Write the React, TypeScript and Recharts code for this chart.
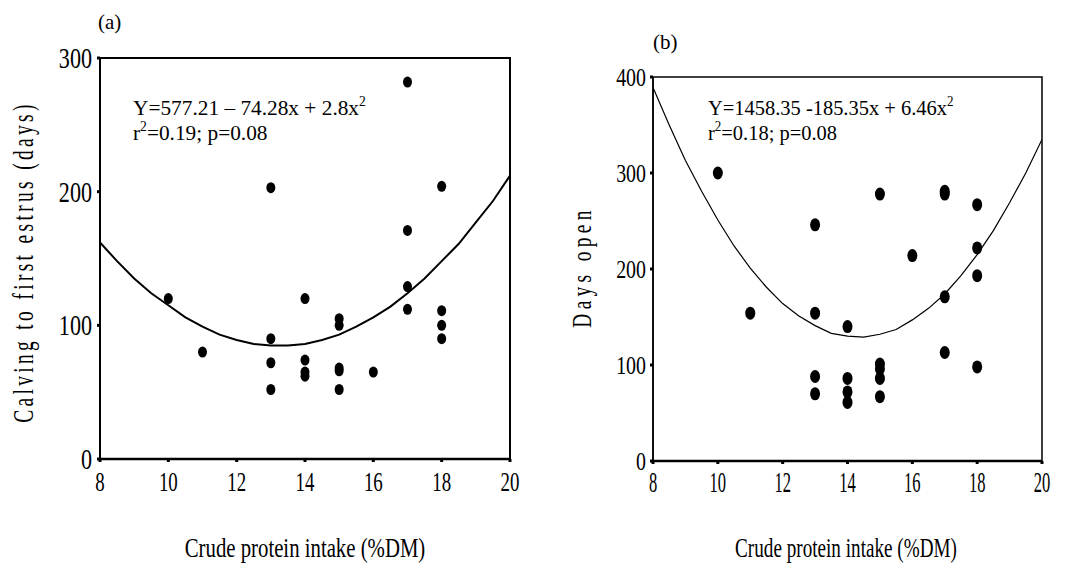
import React from "react";
import {
  ComposedChart, Scatter, Line, XAxis, YAxis, ReferenceArea,
} from "recharts";

// (a) calving to first estrus vs crude protein intake
const cpA = [10, 11, 13, 13, 13, 13, 14, 14, 14, 14, 15, 15, 15, 15, 15, 16, 17, 17, 17, 17, 18, 18, 18, 18];
const calvingDays = [120, 80, 203, 90, 72, 52, 120, 74, 65, 62, 105, 100, 68, 66, 52, 65, 282, 171, 129, 112, 204, 111, 100, 90];

// (b) days open vs crude protein intake
const cpB = [10, 11, 13, 13, 13, 13, 14, 14, 14, 14, 15, 15, 15, 15, 15, 16, 17, 17, 17, 17, 18, 18, 18, 18];
const daysOpen = [300, 154, 246, 154, 88, 70, 140, 86, 72, 61, 278, 101, 96, 86, 67, 214, 281, 278, 171, 113, 267, 222, 193, 98];

// fitted curves
const fitX = [8, 8.5, 9, 9.5, 10, 10.5, 11, 11.5, 12, 12.5, 13, 13.5, 14, 14.5, 15, 15.5, 16, 16.5, 17, 17.5, 18, 18.5, 19, 19.5, 20];
const fitA = [162, 148, 135, 124, 115, 106, 99, 93, 89, 86, 85, 85, 86, 89, 93, 99, 106, 114, 124, 135, 148, 161, 177, 193, 212];
const fitB = [389, 350, 313, 281, 251, 224, 201, 181, 164, 151, 141, 133, 130, 129, 132, 137, 147, 159, 174, 193, 215, 240, 269, 300, 335];

const xTicks = [8, 10, 12, 14, 16, 18, 20];
const yTicksA = [0, 100, 200, 300];
const yTicksB = [0, 100, 200, 300, 400];

const FONT = "Liberation Serif";

const zip = (xs: number[], ys: number[]) => xs.map((x, i) => ({ x, y: ys[i] }));

function Dot(props: any) {
  const { cx, cy, rx, ry } = props;
  if (cx == null || cy == null) return null;
  return <ellipse cx={cx} cy={cy} rx={rx} ry={ry} fill="#000" />;
}

// the scanned figure has tall, narrow lettering: big font squeezed horizontally
const makeTick = (size: number, sx: number, axis: "x" | "y") => ({ x, y, payload }: any) => (
  <text
    transform={`translate(${x},${y}) scale(${sx},1)`}
    dy={axis === "x" ? "0.72em" : "0.34em"}
    textAnchor={axis === "x" ? "middle" : "end"}
    fontSize={size} fontFamily={FONT} fill="#000"
  >
    {payload.value}
  </text>
);

interface PanelProps {
  left: number;
  points: { x: number; y: number }[];
  fit: { x: number; y: number }[];
  yMax: number;
  yTicks: number[];
  margin: { top: number; right: number; bottom: number; left: number };
  frame: number;
  axisWidth: number;
  lineWidth: number;
  dot: [number, number];
  xTickMargin: number;
  yTickMargin: number;
  xTick: [number, number];
  yTick: [number, number];
}

function Panel(p: PanelProps) {
  const XTick = makeTick(p.xTick[0], p.xTick[1], "x");
  const YTick = makeTick(p.yTick[0], p.yTick[1], "y");
  return (
    <div style={{ position: "absolute", left: p.left, top: 0 }}>
      <ComposedChart width={536} height={565} margin={p.margin}>
        <XAxis
          type="number" dataKey="x" domain={[8, 20]} ticks={xTicks} allowDataOverflow
          axisLine={{ stroke: "#000", strokeWidth: p.axisWidth }}
          tickLine={{ stroke: "#000", strokeWidth: 3 }} tickSize={3}
          tickMargin={p.xTickMargin} tick={<XTick />} height={40} interval={0}
        />
        <YAxis
          type="number" dataKey="y" domain={[0, p.yMax]} ticks={p.yTicks} allowDataOverflow
          axisLine={{ stroke: "#000", strokeWidth: p.frame }}
          tickLine={{ stroke: "#000", strokeWidth: 3 }} tickSize={3}
          tickMargin={p.yTickMargin} tick={<YTick />} width={60} interval={0}
        />
        <ReferenceArea x1={8} x2={20} y1={0} y2={p.yMax} fill="none" stroke="#000" strokeWidth={p.frame} ifOverflow="visible" />
        <Line data={p.fit} dataKey="y" type="linear" stroke="#000" strokeWidth={p.lineWidth} dot={false} activeDot={false} isAnimationActive={false} />
        <Scatter data={p.points} dataKey="y" shape={(s: any) => <Dot {...s} rx={p.dot[0]} ry={p.dot[1]} />} isAnimationActive={false} />
      </ComposedChart>
    </div>
  );
}

export default function App() {
  return (
    <div style={{ position: "relative", width: 1072, height: 565, background: "#fff", fontFamily: FONT }}>
      <style>{`body{margin:0}`}</style>
      <Panel
        left={0} points={zip(cpA, calvingDays)} fit={zip(fitX, fitA)} yMax={300} yTicks={yTicksA}
        margin={{ top: 58, right: 26, bottom: 66, left: 40 }}
        frame={2} axisWidth={2.5} lineWidth={2} dot={[4.5, 5.5]} xTickMargin={10} yTickMargin={5}
        xTick={[27, 0.7]} yTick={[29.5, 0.75]}
      />
      <Panel
        left={536} points={zip(cpB, daysOpen)} fit={zip(fitX, fitB)} yMax={400} yTicks={yTicksB}
        margin={{ top: 77, right: 30, bottom: 64, left: 57 }}
        frame={1.5} axisWidth={2.5} lineWidth={1.2} dot={[5, 6.5]} xTickMargin={7} yTickMargin={4}
        xTick={[29.5, 0.56]} yTick={[25.5, 0.78]}
      />
      <svg width={1072} height={565} style={{ position: "absolute", left: 0, top: 0, pointerEvents: "none" }}>
        <g fontFamily={FONT} fill="#000">
          <text x={98} y={29} fontSize={21}>(a)</text>
          <text x={653} y={49} fontSize={21}>(b)</text>

          <g transform="translate(133,115) scale(0.97,1)">
            <text fontSize={22}>
              Y=577.21 – 74.28x + 2.8x<tspan fontSize={14} dy={-9}>2</tspan>
            </text>
            <text y={25} fontSize={22}>
              r<tspan fontSize={14} dy={-9}>2</tspan><tspan dy={9}>=0.19; p=0.08</tspan>
            </text>
          </g>
          <g transform="translate(708,115) scale(0.93,1)">
            <text fontSize={22}>
              Y=1458.35 -185.35x + 6.46x<tspan fontSize={14} dy={-9}>2</tspan>
            </text>
            <text y={25} fontSize={22}>
              r<tspan fontSize={14} dy={-9}>2</tspan><tspan dy={9}>=0.18; p=0.08</tspan>
            </text>
          </g>

          <text transform="translate(33,262) rotate(-90) scale(0.67,1)" textAnchor="middle" fontSize={29} letterSpacing={5}>
            Calving to first estrus (days)
          </text>
          <text transform="translate(591,267) rotate(-90) scale(0.72,1)" textAnchor="middle" fontSize={27} letterSpacing={6}>
            Days open
          </text>

          <text transform="translate(305,557) scale(0.77,1)" textAnchor="middle" fontSize={27}>
            Crude protein intake (%DM)
          </text>
          <text transform="translate(846,557) scale(0.71,1)" textAnchor="middle" fontSize={27}>
            Crude protein intake (%DM)
          </text>
        </g>
      </svg>
    </div>
  );
}
